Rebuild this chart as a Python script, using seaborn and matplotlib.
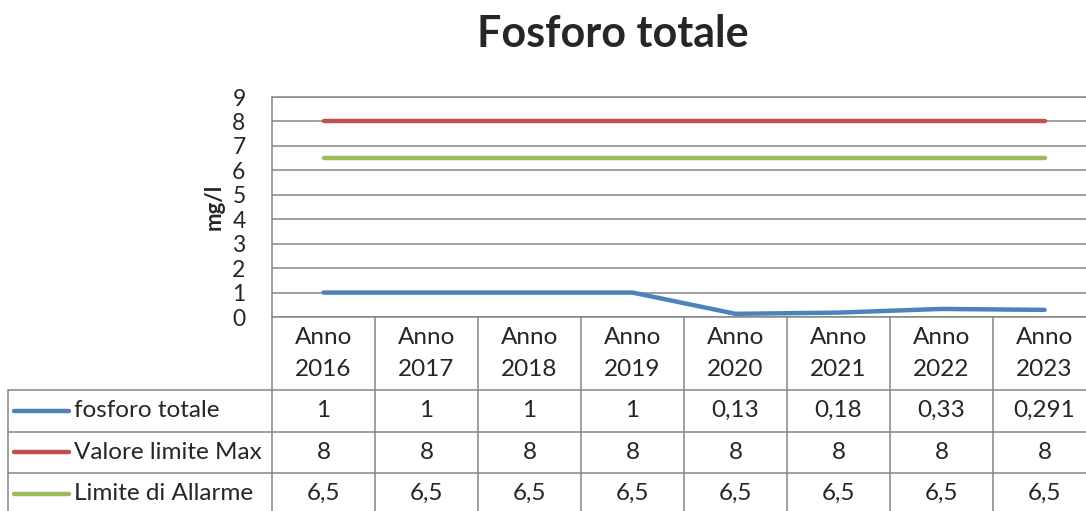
import pandas as pd
import seaborn as sns
import matplotlib.pyplot as plt
from matplotlib.transforms import blended_transform_factory

anni = ['Anno\n2016', 'Anno\n2017', 'Anno\n2018', 'Anno\n2019',
        'Anno\n2020', 'Anno\n2021', 'Anno\n2022', 'Anno\n2023']
fosforo_totale = [1, 1, 1, 1, 0.13, 0.18, 0.33, 0.291]
valore_limite_max = [8, 8, 8, 8, 8, 8, 8, 8]
limite_allarme = [6.5, 6.5, 6.5, 6.5, 6.5, 6.5, 6.5, 6.5]
serie = ['fosforo totale', 'Valore limite Max', 'Limite di Allarme']
colori = ['#4F81BD', '#C0504D', '#9BBB59']

rows = []
for nome, valori in zip(serie, [fosforo_totale, valore_limite_max, limite_allarme]):
    for i, v in enumerate(valori):
        rows.append({'pos': i, 'valore': v, 'serie': nome})
df = pd.DataFrame(rows)

sns.set_style('white')
plt.rcParams['font.family'] = ['Lato', 'DejaVu Sans']

grey = '#868686'
fig = plt.figure(figsize=(10.86, 5.11), dpi=100)
# plot area: the last column runs past the right edge, like the original
ax = fig.add_axes([272 / 1086, 194 / 511, 824 / 1086, 220 / 511])

sns.lineplot(data=df, x='pos', y='valore', hue='serie', hue_order=serie,
             palette=colori, linewidth=3.2, legend=False, ax=ax,
             solid_capstyle='round')

ax.set_xlim(-0.5, len(anni) - 0.5)
ax.set_ylim(0, 9)
ax.set_yticks(range(10))
ax.set_xticks([])
ax.set_xlabel('')
ax.grid(axis='y', color=grey, linewidth=1.1)
ax.set_axisbelow(True)
for s in ax.spines.values():
    s.set_color(grey)
    s.set_linewidth(1.1)
ax.spines['right'].set_visible(False)
ax.tick_params(axis='y', length=0, pad=19, labelsize=16.5)
ax.set_ylabel('mg/l', fontsize=16, fontweight='bold')
ax.yaxis.set_label_coords(-0.058, 0.5)

# data table under the plot
trans = blended_transform_factory(ax.transData, ax.transAxes)
head_h = 73 / 220
row_h = 41.5 / 220
x_left = -0.5 - 264 / 103
x_right = len(anni) - 0.5
y_bottom = -(head_h + 3.2 * row_h)
lk = dict(color=grey, linewidth=1.1, transform=trans, clip_on=False)
fs = 17.5

for i in range(len(anni) + 1):
    ax.plot([i - 0.5, i - 0.5], [0, y_bottom], **lk)
ax.plot([x_left, x_left], [-head_h, y_bottom], **lk)
for r in range(3):
    y = -head_h - r * row_h
    ax.plot([x_left, x_right], [y, y], **lk)

for i, a in enumerate(anni):
    ax.text(i, -head_h / 2, a, transform=trans, ha='center', va='center',
            fontsize=fs, linespacing=1.7, clip_on=False)

for r, (nome, col, valori) in enumerate(zip(serie, colori,
                                              [fosforo_totale, valore_limite_max, limite_allarme])):
    yc = -head_h - (r + 0.5) * row_h
    ax.plot([x_left + 0.06, x_left + 0.59], [yc, yc], color=col, linewidth=3.2,
            solid_capstyle='round', transform=trans, clip_on=False)
    ax.text(x_left + 0.64, yc, nome, transform=trans, ha='left', va='center',
            fontsize=fs, clip_on=False)
    for i, v in enumerate(valori):
        ax.text(i, yc, f'{v:g}'.replace('.', ','), transform=trans,
                ha='center', va='center', fontsize=fs, clip_on=False)

fig.text(613 / 1086, 1 - 47 / 511, 'Fosforo totale', ha='center', va='baseline',
         fontsize=31, fontweight='bold')

fig.savefig('out.png', dpi=100)
